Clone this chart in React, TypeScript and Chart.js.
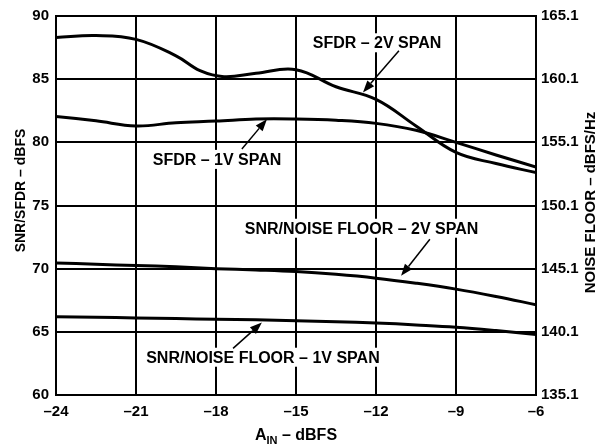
import React, { useEffect, useRef } from "react";
import { Chart, registerables } from "chart.js";

Chart.register(...registerables);

// ---- data ----
const xGrid = [-24, -22.5, -21, -19.5, -18, -16.5, -15, -13.5, -12, -10.5, -9, -7.5, -6];
const sfdr2VX = [-24, -22.5, -21, -19.5, -18.6, -17.7, -16.5, -15, -13.5, -12, -10.5, -9, -7.5, -6];
const sfdr2V = [88.3, 88.45, 88.15, 86.85, 85.68, 85.2, 85.47, 85.75, 84.4, 83.4, 81.3, 79.2, 78.32, 77.6];
const sfdr1V = [82.05, 81.7, 81.3, 81.55, 81.68, 81.85, 81.85, 81.75, 81.5, 80.95, 80.0, 79.0, 78.05];
const snr2V = [70.45, 70.35, 70.25, 70.15, 70.0, 69.9, 69.77, 69.55, 69.25, 68.85, 68.38, 67.8, 67.15];
const snr1V = [66.2, 66.15, 66.1, 66.05, 66.0, 65.95, 65.88, 65.8, 65.7, 65.55, 65.37, 65.1, 64.78];

const xTicks = [-24, -21, -18, -15, -12, -9, -6];
const leftTicks = [60, 65, 70, 75, 80, 85, 90];
const rightTicks = [135.1, 140.1, 145.1, 150.1, 155.1, 160.1, 165.1];

const leftTitle = "SNR/SFDR – dBFS";
const rightTitle = "NOISE FLOOR – dBFS/Hz";
const bottomTitleMain = "A";
const bottomTitleSub = "IN";
const bottomTitleRest = " – dBFS";

// annotation labels, in data units (x: dBFS input, y: left axis)
const annotationTexts = ["SFDR – 2V SPAN", "SFDR – 1V SPAN", "SNR/NOISE FLOOR – 2V SPAN", "SNR/NOISE FLOOR – 1V SPAN"];
const annotationTextX = [-11.96, -17.96, -12.54, -16.24];
const annotationTextY = [87.88, 78.65, 73.2, 62.99];
const arrowFromX = [-11.14, -17.03, -9.98, -17.36];
const arrowFromY = [87.25, 79.48, 72.33, 63.69];
const arrowToX = [-12.49, -16.09, -11.06, -16.28];
const arrowToY = [83.95, 81.83, 69.43, 65.73];

const FONT = "'Liberation Sans', Arial, Helvetica, sans-serif";
const ANN_FONT = `bold 16px ${FONT}`;

const pts = (xs: number[], ys: number[]) => xs.map((x, i) => ({ x, y: ys[i] }));
const dash = (v: number) => (v < 0 ? "–" + Math.abs(v) : String(v));

const overlayPlugin = {
  id: "overlay",
  beforeDatasetsDraw(chart: any) {
    const ctx = chart.ctx as CanvasRenderingContext2D;
    const xs = chart.scales.x;
    const ys = chart.scales.y;
    ctx.save();
    ctx.font = ANN_FONT;
    ctx.fillStyle = "#fff";
    for (let i = 0; i < annotationTexts.length; i++) {
      const w = ctx.measureText(annotationTexts[i]).width + 8;
      const h = 19;
      const cx = xs.getPixelForValue(annotationTextX[i]);
      const cy = ys.getPixelForValue(annotationTextY[i]);
      ctx.fillRect(cx - w / 2, cy - h / 2, w, h);
    }
    ctx.restore();
  },
  afterDatasetsDraw(chart: any) {
    const ctx = chart.ctx as CanvasRenderingContext2D;
    const xs = chart.scales.x;
    const ys = chart.scales.y;
    ctx.save();
    ctx.fillStyle = "#000";
    ctx.strokeStyle = "#000";
    // annotations
    ctx.font = ANN_FONT;
    ctx.textAlign = "center";
    ctx.textBaseline = "middle";
    for (let i = 0; i < annotationTexts.length; i++) {
      ctx.fillText(annotationTexts[i], xs.getPixelForValue(annotationTextX[i]), ys.getPixelForValue(annotationTextY[i]) + 1);
      const x1 = xs.getPixelForValue(arrowFromX[i]);
      const y1 = ys.getPixelForValue(arrowFromY[i]);
      const x2 = xs.getPixelForValue(arrowToX[i]);
      const y2 = ys.getPixelForValue(arrowToY[i]);
      const ang = Math.atan2(y2 - y1, x2 - x1);
      const hl = 12;
      const hw = 4.5;
      const bx = x2 - hl * Math.cos(ang);
      const by = y2 - hl * Math.sin(ang);
      ctx.lineWidth = 1.5;
      ctx.beginPath();
      ctx.moveTo(x1, y1);
      ctx.lineTo(bx, by);
      ctx.stroke();
      ctx.beginPath();
      ctx.moveTo(x2, y2);
      ctx.lineTo(bx + hw * Math.sin(ang), by - hw * Math.cos(ang));
      ctx.lineTo(bx - hw * Math.sin(ang), by + hw * Math.cos(ang));
      ctx.closePath();
      ctx.fill();
    }
    // left title
    ctx.save();
    ctx.translate(21, (chart.chartArea.top + chart.chartArea.bottom) / 2 - 15);
    ctx.rotate(-Math.PI / 2);
    ctx.font = `bold 14px ${FONT}`;
    ctx.fillText(leftTitle, 0, 0);
    ctx.restore();
    // right title
    ctx.save();
    ctx.translate(591, (chart.chartArea.top + chart.chartArea.bottom) / 2 - 3);
    ctx.rotate(-Math.PI / 2);
    ctx.font = `bold 15px ${FONT}`;
    ctx.fillText(rightTitle, 0, 0);
    ctx.restore();
    // bottom title with subscript
    const mainFont = `bold 16px ${FONT}`;
    const subFont = `bold 11px ${FONT}`;
    ctx.font = mainFont;
    const wA = ctx.measureText(bottomTitleMain).width;
    const wR = ctx.measureText(bottomTitleRest).width;
    ctx.font = subFont;
    const wS = ctx.measureText(bottomTitleSub).width;
    const total = wA + wS + wR;
    let cx = (chart.chartArea.left + chart.chartArea.right) / 2 - total / 2;
    const base = 440;
    ctx.textAlign = "left";
    ctx.textBaseline = "alphabetic";
    ctx.font = mainFont;
    ctx.fillText(bottomTitleMain, cx, base);
    cx += wA;
    ctx.font = subFont;
    ctx.fillText(bottomTitleSub, cx, base + 4);
    cx += wS;
    ctx.font = mainFont;
    ctx.fillText(bottomTitleRest, cx, base);
    ctx.restore();
  },
};

export default function App() {
  const ref = useRef<HTMLCanvasElement | null>(null);
  useEffect(() => {
    if (!ref.current) return;
    const lineDs = (data: any[]) => ({
      data,
      borderColor: "#000",
      borderWidth: 3,
      pointRadius: 0,
      tension: 0.4,
      fill: false,
      yAxisID: "y",
    });
    const tickFont = { family: FONT, size: 15, weight: "bold" as const };
    const chart = new Chart(ref.current, {
      type: "line",
      data: {
        datasets: [
          lineDs(pts(sfdr2VX, sfdr2V)),
          lineDs(pts(xGrid, sfdr1V)),
          lineDs(pts(xGrid, snr2V)),
          lineDs(pts(xGrid, snr1V)),
        ],
      },
      options: {
        responsive: false,
        animation: false,
        devicePixelRatio: 1,
        layout: { padding: { top: 13, left: 0, right: 0, bottom: 0 } },
        plugins: { legend: { display: false }, tooltip: { enabled: false } },
        scales: {
          x: {
            type: "linear",
            min: -24,
            max: -6,
            afterBuildTicks: (s: any) => {
              s.ticks = xTicks.map((value) => ({ value }));
            },
            afterFit: (s: any) => {
              s.height = 49;
            },
            ticks: { color: "#000", font: tickFont, padding: 8, callback: (v: any) => dash(Number(v)), autoSkip: false, maxRotation: 0 },
            grid: { color: "#000", lineWidth: 2, drawTicks: false },
            border: { display: true, color: "#000", width: 2 },
          },
          y: {
            type: "linear",
            position: "left",
            min: 60,
            max: 90,
            afterBuildTicks: (s: any) => {
              s.ticks = leftTicks.map((value) => ({ value }));
            },
            afterFit: (s: any) => {
              s.width = 56;
            },
            ticks: { color: "#000", font: tickFont, padding: 7 },
            grid: { color: "#000", lineWidth: 2, drawTicks: false },
            border: { display: true, color: "#000", width: 2 },
          },
          y2: {
            type: "linear",
            position: "right",
            min: 135.1,
            max: 165.1,
            afterBuildTicks: (s: any) => {
              s.ticks = rightTicks.map((value) => ({ value }));
            },
            afterFit: (s: any) => {
              s.width = 74;
            },
            ticks: { color: "#000", font: tickFont, padding: 5, callback: (v: any) => Number(v).toFixed(1) },
            grid: { display: false, drawTicks: false },
            border: { display: true, color: "#000", width: 2 },
          },
        },
      },
      plugins: [overlayPlugin],
    });
    return () => chart.destroy();
  }, []);
  return (
    <div style={{ position: "absolute", left: 0, top: 0, width: 610, height: 444, background: "#fff" }}>
      <canvas ref={ref} width={610} height={444} style={{ display: "block" }} />
    </div>
  );
}
